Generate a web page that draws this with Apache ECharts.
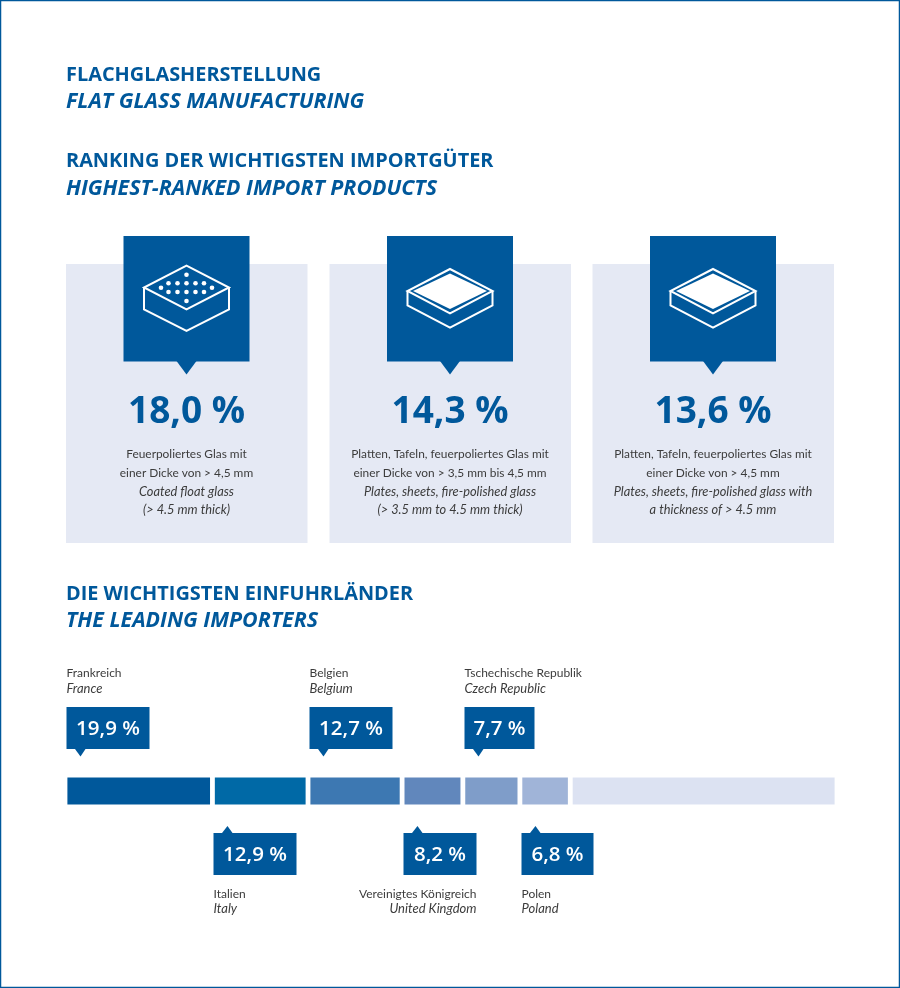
<!DOCTYPE html>
<html><head><meta charset="utf-8">
<style>html,body{margin:0;padding:0;background:#fff}#c{width:900px;height:988px}</style>
<script src="https://cdn.jsdelivr.net/npm/echarts@6/dist/echarts.min.js"></script>
</head><body><div id="c"></div>
<script>
// ---- data ----
const countriesDe = ['Frankreich','Italien','Belgien','Vereinigtes Königreich','Tschechische Republik','Polen'];
const countriesEn = ['France','Italy','Belgium','United Kingdom','Czech Republic','Poland'];
const importerShares = [19.9,12.9,12.7,8.2,7.7,6.8];
const shareLabels = ['19,9 %','12,9 %','12,7 %','8,2 %','7,7 %','6,8 %'];
const remainderShare = 36; // unlabelled pale segment, read from its drawn length
const productValues = ['18,0 %','14,3 %','13,6 %'];
const productTexts = [
  ['Feuerpoliertes Glas mit','einer Dicke von > 4,5 mm','Coated float glass','(> 4.5 mm thick)'],
  ['Platten, Tafeln, feuerpoliertes Glas mit','einer Dicke von > 3,5 mm bis 4,5 mm','Plates, sheets, fire-polished glass','(> 3.5 mm to 4.5 mm thick)'],
  ['Platten, Tafeln, feuerpoliertes Glas mit','einer Dicke von > 4,5 mm','Plates, sheets, fire-polished glass with','a thickness of > 4.5 mm']
];
const headings = [
  ['FLACHGLASHERSTELLUNG',false,74],['FLAT GLASS MANUFACTURING',true,101],
  ['RANKING DER WICHTIGSTEN IMPORTGÜTER',false,160],['HIGHEST-RANKED IMPORT PRODUCTS',true,188],
  ['DIE WICHTIGSTEN EINFUHRLÄNDER',false,593],['THE LEADING IMPORTERS',true,620]
];
// ---- styles ----
const BLUE='#00589b', CARD='#e5e9f4', TXT='#3c3c3c', FONT='"Open Sans","Noto Sans",sans-serif', SMALL='Lato,"Open Sans",sans-serif';
const segColors=['#00589b','#0069a6','#3d78b2','#6187bc','#7f9dc9','#a0b4d8','#dce2f2'];
const boxWidths=[83,83,83,73,70,72];
const labelRight=[false,false,false,true,false,false];

const g=[];
g.push({type:'rect',shape:{x:0.5,y:0.5,width:899,height:987},style:{fill:'#fff',stroke:BLUE,lineWidth:1.5},z:0});
headings.forEach(h=>g.push({type:'text',x:66,y:h[2]+1,z:2,style:{text:h[0],fill:BLUE,font:(h[1]?'italic bold 21.4px ':'bold 19.9px ')+FONT,textAlign:'left',textVerticalAlign:'middle'}}));

[66,329.5,592.5].forEach((x,i)=>{
  const cx=x+120.5;
  g.push({type:'rect',z:1,shape:{x:x,y:264,width:241.5,height:279},style:{fill:CARD}});
  g.push({type:'rect',z:2,shape:{x:cx-63,y:236,width:126,height:125.5},style:{fill:BLUE}});
  g.push({type:'polygon',z:2,shape:{points:[[cx-10,361],[cx+10,361],[cx,374.5]]},style:{fill:BLUE}});
  const line={fill:'none',stroke:'#fff',lineWidth:2,lineJoin:'miter'};
  if(i===0){
    g.push({type:'polygon',z:3,shape:{points:[[cx,265.7],[cx+42.5,287.5],[cx,309.3],[cx-42.5,287.5]]},style:line});
    g.push({type:'polyline',z:3,shape:{points:[[cx-42.5,287.5],[cx-42.5,309.3],[cx,331],[cx+42.5,309.3],[cx+42.5,287.5]]},style:line});
    [[0,274.7],[-18,283.3],[-9,283.3],[0,283.3],[9,283.3],[17.5,283.3],[-25.5,287.7],[25.5,287.7],[-18,292],[-9,292],[0,292],[9,292],[17.5,292],[0,301]]
      .forEach(d=>g.push({type:'circle',z:3,shape:{cx:cx+d[0],cy:d[1],r:2.3},style:{fill:'#fff'}}));
  } else {
    g.push({type:'polygon',z:3,shape:{points:[[cx,269],[cx+42.5,291],[cx,313.3],[cx-42.5,291]]},style:line});
    g.push({type:'polygon',z:3,shape:{points:[[cx,273.5],[cx+37,291],[cx,309],[cx-37,291]]},style:{fill:'#fff'}});
    g.push({type:'polyline',z:3,shape:{points:[[cx-42.5,291],[cx-42.5,305.5],[cx,327.7],[cx+42.5,305.5],[cx+42.5,291]]},style:line});
  }
  g.push({type:'text',z:3,x:cx,y:412,style:{text:productValues[i],fill:BLUE,font:'bold 37px '+FONT,textAlign:'center',textVerticalAlign:'middle'}});
  productTexts[i].forEach((t,j)=>g.push({type:'text',z:3,x:cx,y:454+j*18.7,style:{text:t,fill:TXT,font:(j>1?'italic 12.8px ':'11.9px ')+SMALL,textAlign:'center',textVerticalAlign:'middle'}}));
});

const starts=importerShares.map((_,i)=>importerShares.slice(0,i).reduce((a,b)=>a+b,0));
const total=importerShares.reduce((a,b)=>a+b,0)+remainderShare;
const barValues=importerShares.concat([remainderShare]);

const series=barValues.map((v,i)=>({type:'bar',stack:'s',barWidth:32,silent:true,data:[v],
  itemStyle:{color:segColors[i],borderColor:'#fff',borderWidth:2.4},z:3}));

series.push({type:'custom',silent:true,z:5,
  encode:{x:0,y:1},
  data:starts.map((s,i)=>[s,0,i]),
  renderItem:(params,api)=>{
    const i=api.value(2), p=api.coord([api.value(0),0]);
    const x=Math.round(p[0])+1.5, cy=p[1], up=i%2===0, w=boxWidths[i];
    const top=up?cy-84:cy+42, h=42;
    const tipBase=up?top+h:top, tipY=up?cy-34.5:cy+35;
    const ty1=up?cy-118:cy+103, ty2=up?cy-102:cy+118;
    const r=labelRight[i];
    const lx=r?x+w:x;
    const ts=(t,y,italic)=>({type:'text',style:{text:t,x:lx,y:y,fill:TXT,font:(italic?'italic 13px ':'12px ')+SMALL,textAlign:r?'right':'left',textVerticalAlign:'middle'}});
    return {type:'group',children:[
      {type:'rect',shape:{x:x,y:top,width:w,height:h},style:{fill:BLUE}},
      {type:'polygon',shape:{points:[[x+8.5,tipBase],[x+19,tipBase],[x+14,tipY]]},style:{fill:BLUE}},
      {type:'text',style:{text:shareLabels[i],x:x+w/2,y:top+h/2+1,fill:'#fff',font:'600 20.5px '+FONT,textAlign:'center',textVerticalAlign:'middle'}},
      ts(countriesDe[i],ty1,false),ts(countriesEn[i],ty2,true)
    ]};
  }
});

const chart=echarts.init(document.getElementById('c'),null,{renderer:'canvas'});
chart.setOption({
  animation:false,backgroundColor:'#fff',
  grid:{left:65,top:775,width:772,height:32,containLabel:false},
  xAxis:{type:'value',min:0,max:total,show:false},
  yAxis:{type:'category',data:['Importeure'],show:false},
  graphic:{elements:g},
  series:series
});
</script></body></html>
